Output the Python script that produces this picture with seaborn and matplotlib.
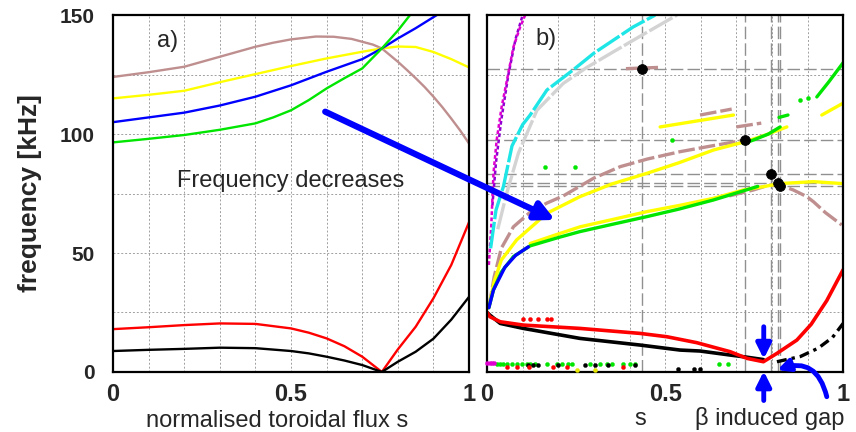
import numpy as np
import matplotlib
matplotlib.use("Agg")
import matplotlib.pyplot as plt
from matplotlib.patches import ConnectionPatch
import seaborn as sns

# ---- panel a) : (s, frequency kHz)
a_brown = [(0, 124), (0.1, 126), (0.2, 128.3), (0.3, 132.5), (0.4, 136.7), (0.45, 138.4),
           (0.5, 139.8), (0.57, 141), (0.62, 140.9), (0.67, 140), (0.7, 138.8), (0.73, 137.6),
           (0.755, 136), (0.8, 130.4), (0.825, 127), (0.85, 123.5), (0.875, 119.8),
           (0.9, 115.7), (0.925, 111.3), (0.95, 106.5), (0.975, 101.5), (1.0, 96)]
a_yellow = [(0, 115), (0.1, 116.5), (0.2, 118.2), (0.3, 121.8), (0.4, 125.2), (0.5, 128.6),
            (0.6, 131.8), (0.7, 134.6), (0.755, 136), (0.8, 136.8), (0.85, 136.6),
            (0.9, 134.5), (0.95, 131.5), (1.0, 128)]
a_blue = [(0, 105), (0.1, 107), (0.2, 109), (0.3, 112), (0.4, 115.7), (0.5, 120.5),
          (0.6, 126.2), (0.7, 131.5), (0.755, 136), (0.8, 140.2), (0.85, 144.5), (0.909, 150)]
a_green = [(0, 96.5), (0.1, 98), (0.2, 99.6), (0.3, 101.8), (0.4, 104.5), (0.45, 107),
           (0.5, 110), (0.55, 114.3), (0.6, 119.2), (0.65, 123.5), (0.7, 127.6),
           (0.755, 136), (0.8, 143.5), (0.834, 150)]
a_red = [(0, 18), (0.1, 18.8), (0.2, 19.7), (0.3, 20.4), (0.4, 20.2), (0.5, 18.3),
         (0.55, 16.5), (0.6, 14.1), (0.65, 10.8), (0.7, 6.4), (0.755, 0), (0.8, 9.5),
         (0.85, 19), (0.9, 31), (0.95, 45), (1.0, 63)]
a_black = [(0, 8.8), (0.1, 9.3), (0.2, 9.7), (0.3, 10.2), (0.4, 10), (0.5, 8.8), (0.55, 7.8),
           (0.6, 6.4), (0.65, 4.8), (0.7, 2.9), (0.755, 0), (0.8, 4.3), (0.85, 8.5),
           (0.9, 14), (0.95, 22), (1.0, 31.6)]

# ---- panel b) : continuum branches
b_magenta = [(0.005, 45), (0.012, 62), (0.018, 83.5), (0.027, 97.5), (0.041, 111.5),
             (0.055, 122), (0.074, 136.6), (0.093, 145), (0.107, 150)]
b_purple = [(0.015, 70), (0.025, 88), (0.04, 106), (0.06, 125), (0.08, 140), (0.1, 150)]
b_cyan = [(0.01, 52), (0.025, 68), (0.046, 78), (0.07, 95), (0.1, 104), (0.121, 108),
          (0.168, 118.5), (0.242, 127), (0.3, 134), (0.355, 139.5), (0.41, 145), (0.472, 150)]
b_gray = [(0.03, 60), (0.055, 75), (0.088, 92), (0.14, 110), (0.214, 121.3), (0.28, 128),
          (0.355, 134.6), (0.44, 142), (0.533, 150)]
b_brown_main = [(0.005, 27), (0.02, 40), (0.04, 52), (0.074, 61), (0.12, 67), (0.168, 71),
                (0.214, 74), (0.3, 81.5), (0.374, 86.3), (0.45, 89.5), (0.542, 92.6),
                (0.63, 95), (0.725, 97.5)]
b_brown_low = [(0.68, 74), (0.748, 76.5), (0.79, 78.5), (0.823, 78.5), (0.86, 76.5),
               (0.898, 73.7), (0.917, 71.5), (0.95, 67), (0.996, 61.8)]
b_brown_seg1 = [(0.39, 127.5), (0.48, 128)]
b_brown_seg2 = [(0.598, 108), (0.687, 110.5)]
b_brown_seg3 = [(0.70, 103), (0.77, 104.6)]
b_yellow_up = [(0.005, 27), (0.02, 38), (0.04, 47), (0.083, 55.5), (0.168, 66.7),
               (0.261, 73.7), (0.35, 79), (0.449, 83.5), (0.54, 88), (0.636, 93.3),
               (0.725, 96.8), (0.78, 99.5), (0.842, 103)]
b_yellow_low = [(0.121, 54), (0.2, 58), (0.261, 61), (0.35, 64), (0.449, 67.4), (0.54, 70),
                (0.636, 73), (0.72, 76.5), (0.78, 78), (0.823, 79.2), (0.917, 80), (0.996, 79.2)]
b_yellow_seg1 = [(0.486, 103), (0.692, 108)]
b_yellow_seg2 = [(0.94, 108), (1.0, 113)]
b_green_low = [(0.005, 27), (0.018, 34.5), (0.04, 42), (0.074, 48.5), (0.121, 53),
               (0.2, 56.5), (0.261, 59), (0.35, 62), (0.449, 65.3), (0.54, 68.5),
               (0.636, 72.3), (0.706, 75.5), (0.76, 78)]
b_green_up = [(0.72, 96), (0.748, 97.5), (0.79, 100), (0.823, 103)]
b_green_seg1 = [(0.82, 107), (0.845, 108)]
b_green_seg2 = [(0.926, 115.6), (0.96, 122), (1.0, 130)]
b_blue = [(0.005, 27), (0.018, 34.5), (0.05, 44), (0.08, 49), (0.116, 52.6)]
b_red = [(0.0, 25), (0.008, 23.2), (0.037, 21.1), (0.102, 19.7), (0.261, 18.3), (0.43, 16.2),
         (0.505, 14.8), (0.589, 12.3), (0.683, 8.5), (0.73, 5.7), (0.776, 4.3), (0.814, 7.8),
         (0.87, 13.4), (0.91, 20), (0.954, 30), (1.0, 43)]
b_black = [(0.0, 25), (0.008, 23.9), (0.037, 20.4), (0.102, 18.3), (0.261, 14.1), (0.43, 11.3),
           (0.542, 9.2), (0.598, 8.8), (0.683, 7.1), (0.73, 6.2), (0.776, 5.2)]
b_black_after = [(0.814, 4.3), (0.88, 6.5), (0.93, 10), (0.97, 14.5), (1.0, 20.4)]

# isolated points
dots_green_s = [0.027, 0.037, 0.046, 0.055, 0.069, 0.083, 0.097, 0.112, 0.121, 0.135, 0.168,
                0.196, 0.21, 0.228, 0.238, 0.289, 0.317, 0.336, 0.35, 0.383, 0.402, 0.416,
                0.65, 0.678]
dots_black_s = [0.116, 0.13, 0.144, 0.2, 0.275, 0.303, 0.341, 0.416]
dots_black_low_s = [0.537, 0.58, 0.598]
dots_red_s = [0.055, 0.083, 0.119, 0.186, 0.224, 0.383]
dots_red_mid_s = [0.1, 0.121, 0.142, 0.168, 0.18]
dots_yellow_s = [0.252, 0.303]
dots_magenta_s = [0.0, 0.007, 0.014, 0.02]
dots_green_high = [(0.519, 97.5), (0.163, 86), (0.247, 86), (0.879, 114.5), (0.9, 115)]

# marked eigenmodes and their reference lines
gae_s = [0.434, 0.725, 0.798, 0.8165, 0.823]
gae_f = [127.3, 97.5, 83.2, 79.5, 78.3]

BROWN = "#bf8f8f"
YELLOW = "#ffff00"
GREEN = "#00e600"
BLUE = "#0000ff"
RED = "#ff0000"
CYAN = "#1ee6e6"
LGRAY = "#d3d3d3"
MAGENTA = "#e000d0"
PURPLE = "#9000d0"

sns.set_style("white")
plt.rcParams["font.family"] = ["Liberation Sans", "DejaVu Sans"]


def line(ax, pts, color, lw=2.0, **kw):
    s, f = zip(*pts)
    sns.lineplot(x=list(s), y=list(f), ax=ax, color=color, lw=lw, **kw)


def style_axes(ax):
    ax.set_xlim(0, 1)
    ax.set_ylim(0, 150)
    ax.set_xticks([0, 0.5, 1])
    ax.set_xticklabels(["0", "0.5", "1"])
    ax.set_yticks([0, 50, 100, 150])
    ax.set_xticks(np.arange(0, 1.01, 0.1), minor=True)
    ax.set_yticks(np.arange(0, 151, 25), minor=True)
    ax.grid(which="both", ls=(0, (2, 2)), color="#a0a0a0", lw=0.7)
    ax.set_axisbelow(True)
    ax.tick_params(which="both", length=0)
    ax.tick_params(axis="x", labelsize=17, pad=8)
    ax.tick_params(axis="y", labelsize=15, pad=13)
    for lab in ax.get_xticklabels() + ax.get_yticklabels():
        lab.set_fontweight("bold")
    for sp in ax.spines.values():
        sp.set_color("black")
        sp.set_linewidth(1.6)
    ax.set_xlabel("")
    ax.set_ylabel("")


fig = plt.figure(figsize=(8.56, 4.32), dpi=100)
ax_a = fig.add_axes([0.132, 0.139, 0.416, 0.826])
ax_b = fig.add_axes([0.569, 0.139, 0.416, 0.826])

# ---- panel a
for pts, col in [(a_brown, BROWN), (a_yellow, YELLOW), (a_blue, BLUE), (a_green, GREEN),
                 (a_red, RED), (a_black, "black")]:
    line(ax_a, pts, col, lw=1.7)
style_axes(ax_a)
ax_a.set_ylabel("frequency [kHz]", fontsize=19, fontweight="bold")
ax_a.yaxis.set_label_coords(-0.2, 0.5)
ax_a.text(0.124, 0.927, "a)", transform=ax_a.transAxes, fontsize=17, va="center")
ax_a.text(0.499, 0.519, "Frequency decreases", transform=ax_a.transAxes, fontsize=17,
          ha="center", va="baseline")
ax_a.text(0.46, -0.153, "normalised toroidal flux s", transform=ax_a.transAxes, fontsize=17,
          ha="center", va="baseline")

# ---- panel b: reference lines first
dash = (0, (9, 3))
for s in gae_s:
    ax_b.axvline(s, color="#909090", lw=1.0, ls=dash, zorder=1)
for f in gae_f:
    ax_b.axhline(f, color="#909090", lw=1.0, ls=dash, zorder=1)

for pts, col in [(b_purple, PURPLE), (b_magenta, MAGENTA)]:
    line(ax_b, pts, col, lw=1.8, ls=(0, (1.5, 1)))
line(ax_b, b_gray, LGRAY, lw=2.4, ls=(0, (8, 0.8)))
line(ax_b, b_cyan, CYAN, lw=2.4, ls=(0, (8, 0.8)))
for pts in [b_brown_main, b_brown_low, b_brown_seg1, b_brown_seg2, b_brown_seg3]:
    line(ax_b, pts, BROWN, lw=2.4, ls=(0, (5, 1.2)))
for pts in [b_yellow_up, b_yellow_low, b_yellow_seg1, b_yellow_seg2]:
    line(ax_b, pts, YELLOW, lw=2.4)
for pts in [b_green_low, b_green_up, b_green_seg1, b_green_seg2]:
    line(ax_b, pts, GREEN, lw=2.4)
line(ax_b, b_blue, BLUE, lw=2.4)
line(ax_b, b_black, "black", lw=2.6)
line(ax_b, b_black_after, "black", lw=2.4, ls=(0, (3, 1.5, 1, 1.5)))
line(ax_b, b_red, RED, lw=2.6)


def dots(ax, s, f, col, size=9):
    sns.scatterplot(x=s, y=f, ax=ax, color=col, s=size, edgecolor=None, zorder=3,
                    clip_on=False)


dots(ax_b, dots_green_s, [3.4] * len(dots_green_s), GREEN)
dots(ax_b, dots_black_s, [2.9] * len(dots_black_s), "black")
dots(ax_b, dots_black_low_s, [1.3] * len(dots_black_low_s), "black")
dots(ax_b, dots_red_s, [2.0] * len(dots_red_s), RED)
dots(ax_b, dots_red_mid_s, [22.3] * len(dots_red_mid_s), RED)
dots(ax_b, dots_yellow_s, [0.8] * len(dots_yellow_s), "#e6e600")
dots(ax_b, dots_magenta_s, [3.6] * len(dots_magenta_s), MAGENTA)
gh_s, gh_f = zip(*dots_green_high)
dots(ax_b, list(gh_s), list(gh_f), GREEN)

sns.scatterplot(x=gae_s, y=gae_f, ax=ax_b, color="black", s=50, edgecolor=None, zorder=5)

style_axes(ax_b)
ax_b.set_yticklabels([])
ax_b.text(0.135, 0.933, "b)", transform=ax_b.transAxes, fontsize=17, va="center")
ax_b.text(0.43, -0.148, "s", transform=ax_b.transAxes, fontsize=17,
          ha="center", va="baseline")
ax_b.text(0.795, -0.148, "\u03b2 induced gap", transform=ax_b.transAxes, fontsize=17,
          ha="center", va="baseline")

# gap arrows
arrow_kw = dict(arrowstyle="-|>", color=BLUE, lw=3.5, mutation_scale=22,
                shrinkA=0, shrinkB=0)
ax_b.annotate("", xy=(0.777, 5.5), xytext=(0.777, 19), arrowprops=arrow_kw,
              annotation_clip=False)
ax_b.annotate("", xy=(0.777, 0.3), xytext=(0.777, -12), arrowprops=arrow_kw,
              annotation_clip=False)
ax_b.annotate("", xy=(0.815, 0.8), xytext=(0.954, -10.4),
              arrowprops=dict(arrow_kw, connectionstyle="arc3,rad=0.55", mutation_scale=18),
              annotation_clip=False)

# big arrow from panel a to panel b
con = ConnectionPatch(xyA=(0.596, 109.4), coordsA=ax_a.transData,
                      xyB=(0.191, 63.9), coordsB=ax_b.transData,
                      arrowstyle="-|>", color=BLUE, lw=4.5, mutation_scale=28,
                      shrinkA=0, shrinkB=0, zorder=10)
fig.add_artist(con)

fig.savefig("out.png", dpi=100)
